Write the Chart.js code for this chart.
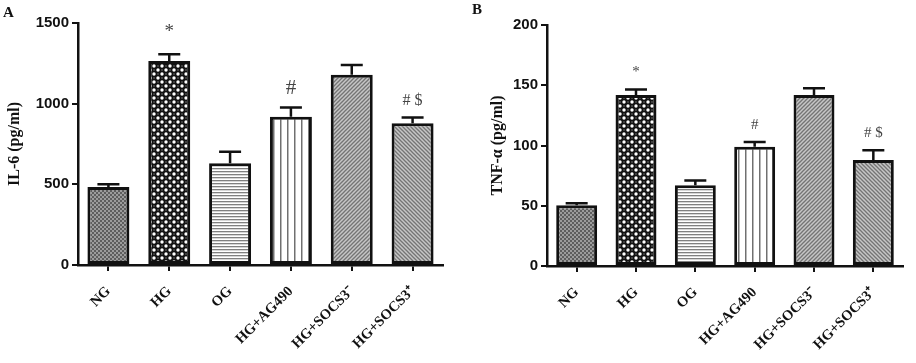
<!DOCTYPE html>
<html>
<head>
<meta charset="utf-8">
<script src="https://cdn.jsdelivr.net/npm/chart.js@4/dist/chart.umd.min.js"></script>
<style>
  html, body { margin:0; padding:0; background:#fff; }
  #wrap { position:relative; width:916px; height:363px; overflow:hidden; }
  .cv { position:absolute; top:0; }
  .panel { position:absolute; font-family:"Liberation Serif", serif; font-weight:bold; font-size:15px; color:#111; }
</style>
</head>
<body>
<div id="wrap">
  <canvas id="cA" class="cv" width="458" height="363" style="left:0"></canvas>
  <canvas id="cB" class="cv" width="458" height="363" style="left:458px"></canvas>
  <div class="panel" style="left:3px;top:4px;">A</div>
  <div class="panel" style="left:472px;top:1px;">B</div>
</div>
<script>
// ---- data ----
const categories = ['NG', 'HG', 'OG', 'HG+AG490', 'HG+SOCS3\u207B', 'HG+SOCS3\u207A'];
const il6Values  = [483, 1265, 630, 919, 1180, 878];
const il6Errors  = [18, 42, 72, 58, 60, 36];
const il6Marks   = ['', '*', '', '#', '', '# $'];
const il6Ticks   = [0, 500, 1000, 1500];
const tnfValues  = [50.5, 142, 67, 99, 142, 88];
const tnfErrors  = [1.5, 4.5, 4, 4, 5.5, 8];
const tnfMarks   = ['', '*', '', '#', '', '# $'];
const tnfTicks   = [0, 50, 100, 150, 200];

// ---- patterns ----
function makePattern(w, h, draw) {
  const c = document.createElement('canvas');
  c.width = w; c.height = h;
  const g = c.getContext('2d');
  draw(g, w, h);
  return g.createPattern(c, 'repeat');
}
const patNG = makePattern(4, 4, (g) => {
  g.fillStyle = '#9c9c9c'; g.fillRect(0, 0, 4, 4);
  g.fillStyle = '#5e5e5e'; g.fillRect(0, 0, 2, 2); g.fillRect(2, 2, 2, 2);
});
const patHG = makePattern(8, 8, (g) => {
  g.fillStyle = '#111111'; g.fillRect(0, 0, 8, 8);
  g.fillStyle = '#ffffff';
  g.beginPath(); g.arc(2, 2, 1.7, 0, Math.PI * 2); g.fill();
  g.beginPath(); g.arc(6, 6, 1.7, 0, Math.PI * 2); g.fill();
  g.fillStyle = '#555';
  g.beginPath(); g.arc(6, 2, 0.9, 0, Math.PI * 2); g.fill();
  g.beginPath(); g.arc(2, 6, 0.9, 0, Math.PI * 2); g.fill();
});
const patOG = makePattern(4, 3, (g) => {
  g.fillStyle = '#ffffff'; g.fillRect(0, 0, 4, 3);
  g.fillStyle = '#808080'; g.fillRect(0, 0, 4, 1);
  g.fillStyle = '#d6d6d6'; g.fillRect(0, 1, 4, 1);
});
const patAG = makePattern(7, 4, (g) => {
  g.fillStyle = '#ffffff'; g.fillRect(0, 0, 7, 4);
  g.fillStyle = '#707070'; g.fillRect(0, 0, 1, 4);
  g.fillStyle = '#b8b8b8'; g.fillRect(1, 0, 1, 4);
});
function diag(g, w, dir) {
  g.fillStyle = '#c6c6c6'; g.fillRect(0, 0, w, w);
  g.strokeStyle = '#747474'; g.lineWidth = 1.3;
  for (let k = -1; k <= 1; k++) {
    g.beginPath();
    if (dir > 0) { g.moveTo(k * w - 1, w + 1); g.lineTo(k * w + w + 1, -1); }
    else { g.moveTo(k * w - 1, -1); g.lineTo(k * w + w + 1, w + 1); }
    g.stroke();
  }
}
const patS1 = makePattern(4, 4, (g) => diag(g, 4, 1));
const patS2 = makePattern(4, 4, (g) => diag(g, 4, -1));
const patterns = [patNG, patHG, patOG, patAG, patS1, patS2];

// ---- error bars and marks plugin ----
const errPlugin = {
  id: 'errMarks',
  afterDatasetsDraw(chart, args, opts) {
    const ctx = chart.ctx;
    const y = chart.scales.y;
    const meta = chart.getDatasetMeta(0);
    const vals = chart.data.datasets[0].data;
    ctx.save();
    meta.data.forEach((bar, i) => {
      const top = y.getPixelForValue(vals[i]);
      const cap = y.getPixelForValue(vals[i] + opts.errors[i]);
      ctx.strokeStyle = '#111';
      ctx.lineWidth = 2.5;
      ctx.beginPath();
      ctx.moveTo(bar.x, top); ctx.lineTo(bar.x, cap);
      ctx.moveTo(bar.x - opts.capHalf, cap); ctx.lineTo(bar.x + opts.capHalf, cap);
      ctx.stroke();
      const m = opts.marks[i];
      if (m) {
        ctx.fillStyle = '#444';
        ctx.textAlign = 'center';
        ctx.textBaseline = 'alphabetic';
        const fs = m === '*' ? opts.starSize : (m === '#' ? opts.hashSize : opts.pairSize);
        ctx.font = fs + 'px "Liberation Serif", serif';
        const gap = m === '*' ? opts.starGap : opts.gap;
        ctx.fillText(m, bar.x, cap - gap);
      }
    });
    ctx.restore();
  }
};

function makeChart(id, values, errors, marks, ticks, title, cfg) {
  return new Chart(document.getElementById(id), {
    type: 'bar',
    data: {
      labels: categories,
      datasets: [{
        data: values,
        backgroundColor: patterns,
        borderColor: '#111',
        borderWidth: 3,
        borderSkipped: false,
        barPercentage: 0.69,
        categoryPercentage: 1.0
      }]
    },
    options: {
      responsive: false,
      animation: false,
      events: [],
      layout: { padding: cfg.padding },
      plugins: {
        legend: { display: false },
        tooltip: { enabled: false },
        errMarks: { errors, marks, capHalf: 11, starSize: cfg.starSize, hashSize: cfg.hashSize, pairSize: cfg.pairSize, gap: cfg.gap, starGap: cfg.starGap }
      },
      scales: {
        x: {
          offset: true,
          grid: { display: true, offset: false, drawOnChartArea: false, drawTicks: true, tickLength: 6, color: '#111', lineWidth: 2 },
          border: { display: true, color: '#111', width: 2.5 },
          ticks: {
            minRotation: 45, maxRotation: 45, autoSkip: false, padding: 12,
            color: '#111',
            font: { family: '"Liberation Serif", serif', weight: 'bold', size: 14.5 }
          },
          afterFit: (s) => { s.height = cfg.xHeight; }
        },
        y: {
          min: ticks[0], max: ticks[ticks.length - 1],
          afterBuildTicks: (s) => { s.ticks = ticks.map(v => ({ value: v })); },
          grid: { display: true, drawOnChartArea: false, drawTicks: true, tickLength: 6, color: '#111', lineWidth: 2 },
          border: { display: true, color: '#111', width: 2.5 },
          ticks: {
            padding: 3, color: '#111',
            callback: (v) => String(v),
            font: { family: '"Liberation Sans", Arial, sans-serif', weight: 'bold', size: 15 }
          },
          title: {
            display: true, text: title, color: '#111',
            padding: { top: 5, bottom: 0 },
            font: { family: '"Liberation Serif", serif', weight: 'bold', size: 16 }
          },
          afterFit: (s) => { s.width = cfg.yWidth; }
        }
      }
    },
    plugins: [errPlugin]
  });
}

makeChart('cA', il6Values, il6Errors, il6Marks, il6Ticks, 'IL-6 (pg/ml)', {
  padding: { top: 23, right: 15, left: 0, bottom: 0 },
  yWidth: 78, xHeight: 98, starSize: 19, hashSize: 21, pairSize: 16, gap: 13, starGap: 17
});
makeChart('cB', tnfValues, tnfErrors, tnfMarks, tnfTicks, 'TNF-\u03B1 (pg/ml)', {
  padding: { top: 25, right: 13, left: 25, bottom: 0 },
  yWidth: 64, xHeight: 97, starSize: 15, hashSize: 15, pairSize: 15, gap: 13, starGap: 13
});
</script>
</body>
</html>
